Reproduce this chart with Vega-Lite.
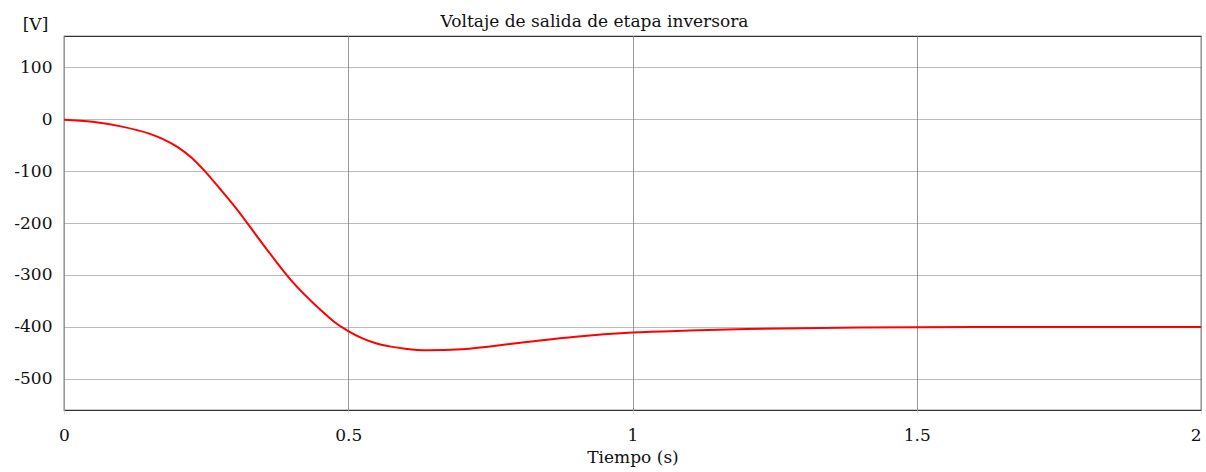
{
  "$schema": "https://vega.github.io/schema/vega-lite/v6.json",
  "autosize": {"type": "none"},
  "width": 1137,
  "height": 374,
  "padding": {"left": 64, "top": 36, "right": 5, "bottom": 62},
  "background": "white",
  "config": {
    "font": "DejaVu Serif",
    "view": {"stroke": "#333", "strokeWidth": 1.2}
  },
  "title": {
    "text": "Voltaje de salida de etapa inversora",
    "fontSize": 17,
    "fontWeight": "normal",
    "color": "#111",
    "offset": -16,
    "dx": -38
  },
  "data": {
    "values": [
      {"t": 0, "v": -1},
      {"t": 0.05, "v": -5},
      {"t": 0.1, "v": -14},
      {"t": 0.15, "v": -28},
      {"t": 0.175, "v": -39},
      {"t": 0.2, "v": -54},
      {"t": 0.225, "v": -75},
      {"t": 0.25, "v": -103},
      {"t": 0.275, "v": -135},
      {"t": 0.3, "v": -168},
      {"t": 0.35, "v": -241},
      {"t": 0.4, "v": -311},
      {"t": 0.45, "v": -366},
      {"t": 0.475, "v": -390},
      {"t": 0.5, "v": -408},
      {"t": 0.525, "v": -422},
      {"t": 0.55, "v": -432},
      {"t": 0.575, "v": -438},
      {"t": 0.6, "v": -442},
      {"t": 0.64, "v": -445},
      {"t": 0.7, "v": -443},
      {"t": 0.8, "v": -431},
      {"t": 0.9, "v": -419},
      {"t": 1.0, "v": -411},
      {"t": 1.1, "v": -407},
      {"t": 1.2, "v": -404},
      {"t": 1.4, "v": -401},
      {"t": 1.6, "v": -400},
      {"t": 1.8, "v": -400},
      {"t": 1.9, "v": -400},
      {"t": 2.0, "v": -400}
    ]
  },
  "mark": {"type": "line", "color": "#ff0000", "strokeWidth": 2, "interpolate": "monotone"},
  "encoding": {
    "x": {
      "field": "t",
      "type": "quantitative",
      "scale": {"domain": [0, 2], "nice": false},
      "axis": {
        "values": [0, 0.5, 1, 1.5, 2],
        "labelExpr": "'' + datum.value",
        "title": "Tiempo (s)",
        "titleFontSize": 17,
        "titleFontWeight": "normal",
        "titleColor": "#111",
        "titlePadding": 6,
        "labelFontSize": 17,
        "labelColor": "#111",
        "labelPadding": 14,
        "labelFlush": false,
        "labelAlign": {"expr": "datum.value == 2 ? 'right' : 'center'"},
        "ticks": true,
        "tickSize": 3,
        "tickColor": "#bbb",
        "tickDash": [1, 1],
        "domain": false,
        "grid": true,
        "gridColor": "#999",
        "gridWidth": 1
      }
    },
    "y": {
      "field": "v",
      "type": "quantitative",
      "scale": {"domain": [-560, 160], "nice": false, "zero": false},
      "axis": {
        "values": [100, 0, -100, -200, -300, -400, -500],
        "labelExpr": "'' + datum.value",
        "title": "[V]",
        "titleAngle": 0,
        "titleX": -29,
        "titleY": -12,
        "titleAlign": "center",
        "titleBaseline": "middle",
        "titleFontSize": 17,
        "titleFontWeight": "normal",
        "titleColor": "#111",
        "labelFontSize": 17,
        "labelColor": "#111",
        "labelPadding": 12,
        "labelBaseline": "middle",
        "labelFlush": false,
        "ticks": false,
        "domain": false,
        "grid": true,
        "gridColor": "#777",
        "gridDash": [1, 1],
        "gridWidth": 1
      }
    }
  }
}
